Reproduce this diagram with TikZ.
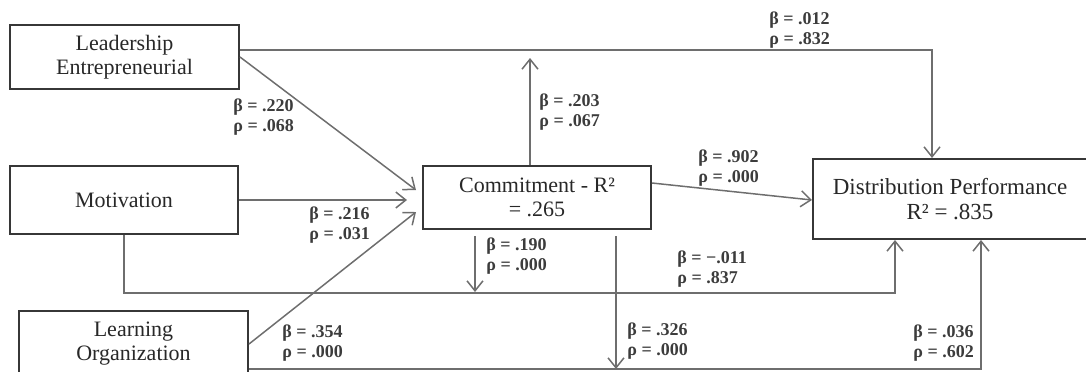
\documentclass[tikz,border=0pt]{standalone}
\usepackage{fontspec}
\setmainfont{Liberation Serif}
\usetikzlibrary{arrows.meta}
\definecolor{boxc}{RGB}{55,55,55}
\definecolor{linec}{RGB}{110,110,110}
\definecolor{txtc}{RGB}{40,40,40}
\definecolor{lblc}{RGB}{60,60,60}
\begin{document}
\begin{tikzpicture}[x=0.5pt,y=-0.5pt,
  box/.style={draw=boxc, line width=1pt, fill=white, inner sep=0pt, align=center,
              text=txtc, font=\fontsize{11}{12}\selectfont},
  lbl/.style={anchor=west, inner sep=0pt, align=left, text=lblc,
              font=\fontsize{9}{10}\bfseries\selectfont},
  arr/.style={draw=linec, line width=0.75pt, -{Straight Barb[length=5pt,width=8pt]}},
  ln/.style={draw=linec, line width=0.75pt}]
\useasboundingbox (0,0) rectangle (1086,371);
\clip (0,0) rectangle (1086,371);
% boxes
\node[box, minimum width=114.5pt, minimum height=32pt] (lead) at (124.5,57) {Leadership\\Entrepreneurial};
\node[box, minimum width=114pt, minimum height=34pt] (mot) at (124,200) {Motivation};
\node[box, minimum width=114.5pt, minimum height=33pt] (learn) at (133.5,344) {Learning\\Organization};
\node[box, minimum width=114pt, minimum height=31.5pt] (com) at (537,197.5) {Commitment - R²\\= .265};
\node[box, minimum width=137pt, minimum height=40pt, font=\fontsize{11.5}{12.5}\selectfont] (dp) at (950,199) {Distribution Performance\\R² = .835};
% free ends on lines (moderation arrows)
\coordinate (modC) at (530,58);
\coordinate (modA) at (475,292);
\coordinate (modB) at (616,369);
% connectors
\draw[arr] ([yshift=3.5pt]lead.east) -| ([xshift=-9pt]dp.north);
\draw[arr] (lead.east) -- ([xshift=-3pt,yshift=3.75pt]com.west);
\draw[arr, shorten >=7.5pt] (mot.east) -- (mot.east -| com.west);
\draw[arr] (learn.east) -- ([xshift=-3pt,yshift=-7.25pt]com.west);
\draw[arr] (mot.south) -- ++(0,58) -| ([xshift=-27.5pt]dp.south);
\draw[arr] ([yshift=-12.5pt]learn.east) -| ([xshift=15.5pt]dp.south);
\draw[arr] ([xshift=-3.5pt]com.north) -- (modC);
\draw[arr] ([xshift=-31pt,yshift=-3pt]com.south) -- (modA);
\draw[arr] ([xshift=39.5pt,yshift=-3pt]com.south) -- (modB);
\draw[arr] ([yshift=7.25pt]com.east) -- ([yshift=-0.5pt]dp.west);
% labels
\node[lbl] (l1) at (769,30) {β = .012\\ρ = .832};
\node[lbl] (l2) at (233,117) {β = .220\\ρ = .068};
\node[lbl] (l3) at (539,112) {β = .203\\ρ = .067};
\node[lbl] (l4) at (698,168) {β = .902\\ρ = .000};
\node[lbl] (l5) at (309,225) {β = .216\\ρ = .031};
\node[lbl] (l6) at (282,343) {β = .354\\ρ = .000};
\node[lbl] (l7) at (486,256) {β = .190\\ρ = .000};
\node[lbl] (l8) at (627,341) {β = .326\\ρ = .000};
\node[lbl] (l9) at (677,269) {β = −.011\\ρ = .837};
\node[lbl] (l10) at (913,343) {β = .036\\ρ = .602};
\end{tikzpicture}
\end{document}
